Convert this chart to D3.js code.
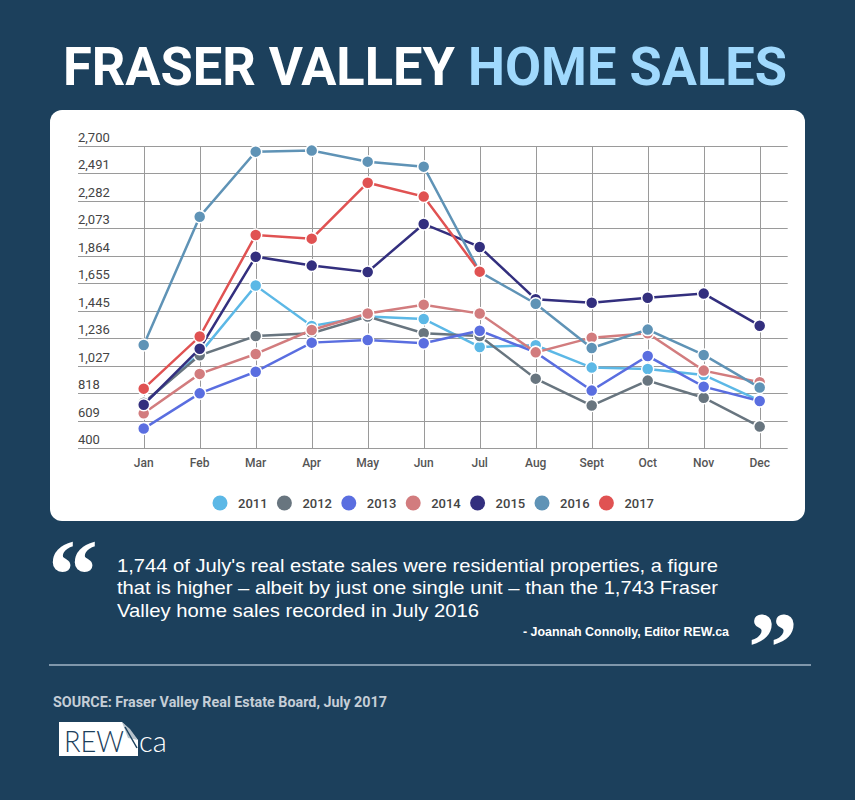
<!DOCTYPE html>
<html>
<head>
<meta charset="utf-8">
<script src="https://cdn.jsdelivr.net/npm/d3@7"></script>
<style>
  body { margin: 0; background: #1c405c; }
  svg { display: block; }
</style>
</head>
<body>
<div class="canvas"></div>
<script>
const months = ['Jan', 'Feb', 'Mar', 'Apr', 'May', 'Jun', 'Jul', 'Aug', 'Sept', 'Oct', 'Nov', 'Dec'];
const yTicks = [400, 609, 818, 1027, 1236, 1445, 1655, 1864, 2073, 2282, 2491, 2700];
const years = ['2011', '2012', '2013', '2014', '2015', '2016', '2017'];
const colors = ['#5cb8e6', '#68757f', '#5a6ee0', '#d27c7e', '#332f7e', '#5f93b6', '#e05252'];

const sales2011 = [740, 1120, 1638, 1331, 1402, 1384, 1171, 1184, 1014, 1004, 958, 762];
const sales2012 = [747, 1108, 1255, 1275, 1402, 1275, 1255, 930, 725, 915, 785, 565];
const sales2013 = [550, 818, 983, 1204, 1224, 1199, 1295, 1130, 839, 1102, 869, 760];
const sales2014 = [666, 966, 1118, 1300, 1425, 1493, 1425, 1130, 1242, 1275, 991, 902];
const sales2015 = [732, 1158, 1858, 1790, 1742, 2107, 1932, 1534, 1508, 1546, 1577, 1333];
const sales2016 = [1186, 2162, 2657, 2665, 2581, 2543, 1743, 1500, 1163, 1303, 1110, 862];
const sales2017 = [854, 1250, 2023, 1995, 2421, 2315, 1744];
const series = [sales2011, sales2012, sales2013, sales2014, sales2015, sales2016, sales2017];

const quoteLines = [
    "1,744 of July's real estate sales were residential properties, a figure",
    "that is higher \u2013 albeit by just one single unit \u2013 than the 1,743 Fraser",
    "Valley home sales recorded in July 2016"
];
const quoteWidths = [601, 601, 362];

const dims = { width: 855, height: 800 };

const svg = d3.select('.canvas')
    .append('svg')
    .attr('width', dims.width)
    .attr('height', dims.height);

svg.append('rect')
    .attr('width', dims.width).attr('height', dims.height)
    .attr('fill', '#1c405c');

// title
const title = svg.append('text')
    .attr('x', 63).attr('y', 85)
    .attr('textLength', 724)
    .attr('lengthAdjust', 'spacingAndGlyphs')
    .style('font-family', 'Roboto')
    .style('font-weight', 700)
    .style('font-size', '53px');
title.append('tspan').attr('fill', '#fff').text('FRASER VALLEY ');
title.append('tspan').attr('fill', '#a0d9fd').text('HOME SALES');

// card
svg.append('rect')
    .attr('x', 50).attr('y', 110)
    .attr('width', 755).attr('height', 411)
    .attr('rx', 12)
    .attr('fill', '#fff');

// scales
const x = d3.scaleBand()
    .domain(months)
    .range([115.7, 787.7]);

const y = d3.scaleLinear()
    .domain([400, 2700])
    .range([448.3, 146]);

const graph = svg.append('g');

// horizontal grid + labels
graph.selectAll('.hgrid')
    .data(yTicks)
    .enter().append('line')
    .attr('x1', 78).attr('x2', 787.7)
    .attr('y1', d => Math.round(y(d)) + 0.5)
    .attr('y2', d => Math.round(y(d)) + 0.5)
    .attr('stroke', '#9a9a9a')
    .attr('stroke-width', 1);

graph.selectAll('.ylab')
    .data(yTicks)
    .enter().append('text')
    .attr('x', 78)
    .attr('y', d => y(d) - 4)
    .attr('fill', '#444')
    .style('font-family', 'Roboto')
    .style('font-size', '13px')
    .text(d => d3.format(',')(d));

// vertical grid
graph.selectAll('.vgrid')
    .data(months)
    .enter().append('line')
    .attr('x1', d => Math.round(x(d) + x.bandwidth() / 2) + 0.5)
    .attr('x2', d => Math.round(x(d) + x.bandwidth() / 2) + 0.5)
    .attr('y1', y(2700)).attr('y2', y(400))
    .attr('stroke', '#9a9a9a')
    .attr('stroke-width', 1);

// x labels
graph.selectAll('.xlab')
    .data(months)
    .enter().append('text')
    .attr('x', d => x(d) + x.bandwidth() / 2)
    .attr('y', 467)
    .attr('text-anchor', 'middle')
    .attr('fill', '#555')
    .style('font-family', 'Roboto')
    .style('font-weight', 500)
    .style('font-size', '12px')
    .text(d => d);

const line = d3.line()
    .x((d, i) => x(months[i]) + x.bandwidth() / 2)
    .y(d => y(d));

// lines then dots for each year
series.forEach((vals, s) => {
    const g = graph.append('g');
    g.append('path')
        .attr('d', line(vals))
        .attr('fill', 'none')
        .attr('stroke', colors[s])
        .attr('stroke-width', 2.5);
    g.selectAll('circle')
        .data(vals)
        .enter().append('circle')
        .attr('cx', (d, i) => x(months[i]) + x.bandwidth() / 2)
        .attr('cy', d => y(d))
        .attr('r', 6)
        .attr('fill', colors[s])
        .attr('stroke', '#fff')
        .attr('stroke-width', 1.5);
});

// legend
const legend = svg.append('g')
    .attr('transform', 'translate(220, 503)');
const item = legend.selectAll('g')
    .data(years)
    .enter().append('g')
    .attr('transform', (d, i) => `translate(${i * 64.4}, 0)`);
item.append('circle')
    .attr('r', 7.5)
    .attr('fill', (d, i) => colors[i]);
item.append('text')
    .attr('x', 18).attr('y', 4.5)
    .attr('fill', '#444')
    .style('font-family', 'Roboto')
    .style('font-weight', 500)
    .style('font-size', '13px')
    .text(d => d);

// quote
svg.append('text')
    .attr('x', 48).attr('y', 608)
    .attr('fill', '#fff')
    .style('font-family', 'Liberation Serif')
    .style('font-weight', 700)
    .style('font-size', '100px')
    .text('\u201C');

svg.selectAll('.quote')
    .data(quoteLines)
    .enter().append('text')
    .attr('x', 117)
    .attr('y', (d, i) => 572 + i * 22.3)
    .attr('textLength', (d, i) => quoteWidths[i])
    .attr('lengthAdjust', 'spacingAndGlyphs')
    .attr('fill', '#fff')
    .style('font-family', 'Liberation Sans')
    .style('font-size', '18.5px')
    .text(d => d);

svg.append('text')
    .attr('x', 523).attr('y', 636)
    .attr('textLength', 206)
    .attr('lengthAdjust', 'spacingAndGlyphs')
    .attr('fill', '#fff')
    .style('font-family', 'Liberation Sans')
    .style('font-weight', 700)
    .style('font-size', '13px')
    .text('- Joannah Connolly, Editor REW.ca');

svg.append('text')
    .attr('x', 748).attr('y', 680)
    .attr('fill', '#fff')
    .style('font-family', 'Liberation Serif')
    .style('font-weight', 700)
    .style('font-size', '100px')
    .text('\u201D');

// divider
svg.append('rect')
    .attr('x', 49).attr('y', 664)
    .attr('width', 762).attr('height', 2)
    .attr('fill', '#7f97ab');

// source
svg.append('text')
    .attr('x', 53).attr('y', 707)
    .attr('textLength', 334)
    .attr('lengthAdjust', 'spacingAndGlyphs')
    .attr('fill', '#c5ced7')
    .style('font-family', 'Roboto')
    .style('font-weight', 700)
    .style('font-size', '14px')
    .text('SOURCE: Fraser Valley Real Estate Board, July 2017');

// logo
const logo = svg.append('g');
logo.append('path')
    .attr('d', 'M59,722 L122,722 L138,740 L138,756 L59,756 Z')
    .attr('fill', '#fff');
logo.append('path')
    .attr('d', 'M122,722 L130,729 L138,740 L128,738 Z')
    .attr('fill', '#b8c2ca');
logo.append('text')
    .attr('x', 64).attr('y', 752)
    .attr('textLength', 60)
    .attr('lengthAdjust', 'spacingAndGlyphs')
    .attr('fill', '#1c405c')
    .style('font-family', 'Lato')
    .style('font-weight', 300)
    .style('font-size', '29px')
    .text('REW');
logo.append('line')
    .attr('x1', 125).attr('y1', 727)
    .attr('x2', 137).attr('y2', 748)
    .attr('stroke', '#1c405c').attr('stroke-width', 1.5);
logo.append('text')
    .attr('x', 139).attr('y', 752)
    .attr('fill', '#fff')
    .style('font-family', 'Lato')
    .style('font-weight', 300)
    .style('font-size', '29px')
    .text('ca');
</script>
</body>
</html>
